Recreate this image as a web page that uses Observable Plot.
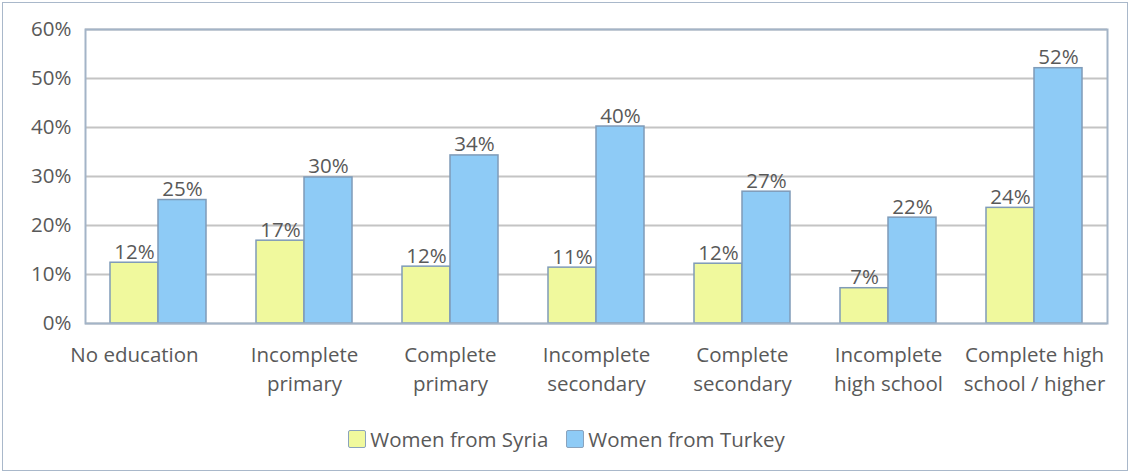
<!DOCTYPE html>
<html><head><meta charset="utf-8">
<script src="https://cdn.jsdelivr.net/npm/d3@7"></script>
<script src="https://cdn.jsdelivr.net/npm/@observablehq/plot@0.6"></script>
<style>
html,body{margin:0;padding:0;background:#fff;}
body{width:1133px;height:476px;position:relative;overflow:hidden;font-family:"Open Sans",sans-serif;}
#border{position:absolute;left:2px;top:2px;width:1126px;height:469px;border:1.5px solid #a9b8ca;box-sizing:border-box;}
#chart{position:absolute;left:0;top:0;}
#legend{position:absolute;top:425px;left:0;width:1133px;display:flex;justify-content:center;align-items:center;gap:18px;font-size:20.5px;color:#595959;}
#legend .item{display:flex;align-items:center;gap:4px;}
#legend .sw{width:18px;height:18px;box-sizing:border-box;border:1.5px solid #8aa3bd;border-radius:2px;}
</style>
</head><body>
<div id="border"></div>
<div id="chart"></div>
<div id="legend"></div>
<script>
const categories = ["No education","Incomplete\nprimary","Complete\nprimary","Incomplete\nsecondary","Complete\nsecondary","Incomplete\nhigh school","Complete high\nschool / higher"];
const series = ["Women from Syria","Women from Turkey"];
const syria = [12.4,16.9,11.6,11.4,12.2,7.2,23.6];
const turkey = [25.2,29.8,34.3,40.2,26.9,21.6,52.1];
const yTicks = [0,10,20,30,40,50,60];
const colors = ["#f0f99d","#8ecbf6"];

const data = categories.flatMap((c,i)=>[
  {category:c, series:series[0], value:syria[i]},
  {category:c, series:series[1], value:turkey[i]}
]);

const fs = 20.5;
const textColor = "#595959";
const labelOpts = {fx:d=>d, text:d=>d, frameAnchor:"bottom", lineAnchor:"top", dy:18, fontSize:fs, fill:textColor, lineHeight:1.42};
const chart = Plot.plot({
  width:1133, height:400,
  marginLeft:83, marginRight:25, marginTop:29, marginBottom:77,
  style:{fontFamily:"'Open Sans', sans-serif", background:"transparent"},
  fx:{domain:categories, padding:0, label:null, axis:null},
  x:{domain:series, paddingInner:0, paddingOuter:0.494, axis:null},
  y:{domain:[0,60], label:null},
  color:{domain:series, range:colors},
  marks:[
    Plot.gridY(yTicks,{stroke:"#c4c4c4", strokeOpacity:1, strokeWidth:2}),
    Plot.axisY(yTicks,{tickSize:0, tickPadding:14, tickFormat:d=>d+"%", fontSize:fs, fill:textColor, label:null}),
    Plot.text(categories.slice(0,1), {...labelOpts, dx:-24}),
    Plot.text(categories.slice(1), labelOpts),
    Plot.barY(data,{fx:"category", x:"series", y:"value", fill:"series", stroke:"#7f9bb8", strokeWidth:1.5}),
    Plot.text(data,{fx:"category", x:"series", y:"value", text:d=>Math.round(d.value)+"%", dy:-4, lineAnchor:"bottom", fontSize:fs, fill:textColor}),
    Plot.frame({facet:"super", stroke:"#a3b4c7", strokeWidth:2})
  ]
});
document.getElementById("chart").appendChild(chart);

const legend = document.getElementById("legend");
series.forEach((s,i)=>{
  const it = document.createElement("div"); it.className="item";
  const sw = document.createElement("div"); sw.className="sw"; sw.style.background=colors[i];
  const t = document.createElement("span"); t.textContent=s;
  it.appendChild(sw); it.appendChild(t); legend.appendChild(it);
});
</script>
</body></html>
